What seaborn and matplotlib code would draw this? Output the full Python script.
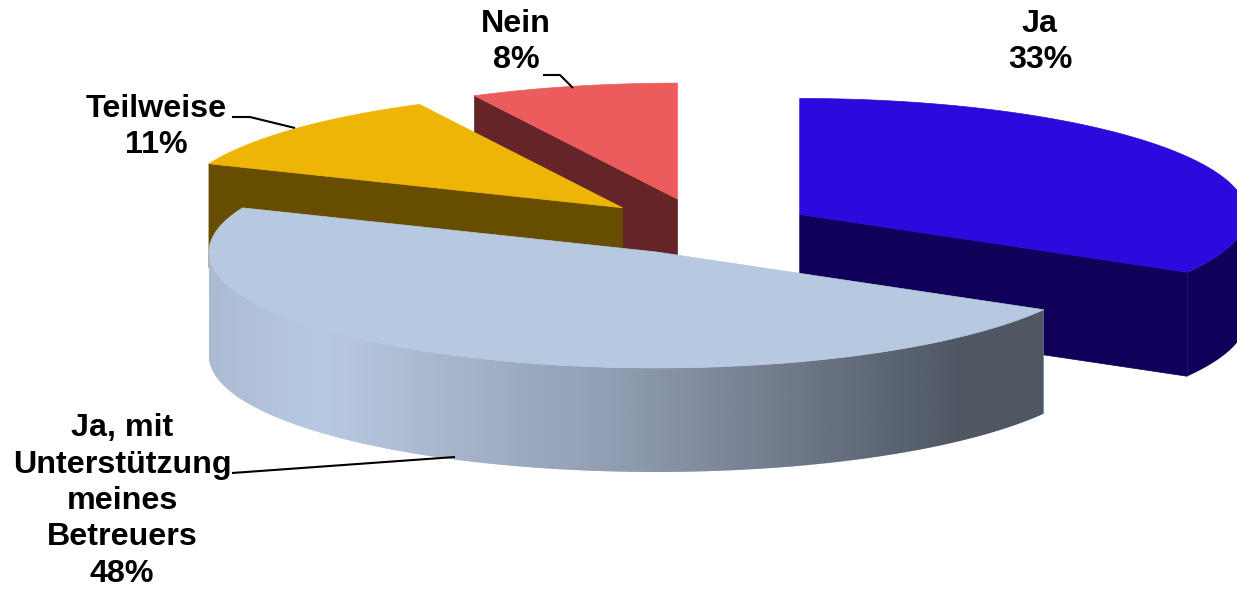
import numpy as np
import matplotlib
matplotlib.use('Agg')
import matplotlib.pyplot as plt
import seaborn as sns
from matplotlib.colors import LinearSegmentedColormap
from matplotlib.patches import Polygon

categories = ['Ja', 'Ja, mit\nUnterstützung\nmeines\nBetreuers', 'Teilweise', 'Nein']
values = [33.3, 47.9, 11.3, 7.5]
explode_x = [0.25, 0.239, 0.245, 0.245]
explode_y = [0.25, 0.22, 0.27, 0.265]
top_colors = ['#2A0ADD', '#B7C9E0', '#EEB506', '#EC5C5C']
side_colors = ['#10005A', '#B7C9E0', '#664D00', '#652428']
rim_colors = ['#AABBD2', '#B8CAE2', '#8F9BB0', '#4F5763', '#4F5763']
rim_stops = [0.0, 0.13, 0.5, 0.9, 1.0]

# pie centre, radii and height in pixels of the 1237x589 canvas
cx, cy = 703, 229
rx, ry = 447, 116
depth = 104


def point(t, ox, oy):
    return ox + rx * np.sin(t), oy - ry * np.cos(t)


def arc(t0, t1, ox, oy, drop=0):
    t = np.linspace(t0, t1, 200)
    x, y = point(t, ox, oy)
    return np.column_stack([x, y + drop])


sns.set_theme(style='white')
plt.rcParams['font.family'] = ['Liberation Sans', 'DejaVu Sans']

fig = plt.figure(figsize=(12.37, 5.89), dpi=100)
ax = fig.add_axes([0, 0, 1, 1])
ax.set_xlim(0, 1237)
ax.set_ylim(589, 0)
ax.axis('off')

edges = np.cumsum([0] + values) / sum(values) * 2 * np.pi
draw_order = [3, 2, 0, 1]

for i in draw_order:
    t0, t1 = edges[i], edges[i + 1]
    mid = (t0 + t1) / 2
    ox = cx + explode_x[i] * rx * np.sin(mid)
    oy = cy - explode_y[i] * ry * np.cos(mid)

    # cut faces, only those turned towards the viewer
    for t, visible in [(t0, np.sin(t0) < -1e-6), (t1, np.sin(t1) > 1e-6)]:
        if visible:
            ex, ey = point(t, ox, oy)
            face = [(ox, oy), (ex, ey), (ex, ey + depth), (ox, oy + depth)]
            ax.add_patch(Polygon(face, closed=True, fc=side_colors[i], ec=side_colors[i], lw=0.5))

    # outer rim, front half only
    a0, a1 = max(t0, np.pi / 2), min(t1, 3 * np.pi / 2)
    if a1 > a0:
        upper = arc(a0, a1, ox, oy)
        lower = arc(a1, a0, ox, oy, depth)
        rim = Polygon(np.vstack([upper, lower]), closed=True, fc=side_colors[i], ec='none')
        ax.add_patch(rim)
        if i == 1:
            cmap = LinearSegmentedColormap.from_list('rim', list(zip(rim_stops, rim_colors)))
            xs = np.vstack([upper, lower])[:, 0]
            img = ax.imshow(np.linspace(0, 1, 512)[None, :], cmap=cmap, aspect='auto',
                            extent=[xs.min(), xs.max(), oy + ry + depth, oy], zorder=rim.get_zorder())
            img.set_clip_path(rim)
            ax.set_xlim(0, 1237)
            ax.set_ylim(589, 0)

    top = np.vstack([[(ox, oy)], arc(t0, t1, ox, oy)])
    ax.add_patch(Polygon(top, closed=True, fc=top_colors[i], ec=top_colors[i], lw=0.5, zorder=2))

# labels with leader lines
label_pos = [(1040, 42), (122, 501), (156, 127), (516, 42)]
leaders = [None,
           [(232, 473), (455, 457)],
           [(232, 117), (250, 117), (295, 128)],
           [(543, 75), (560, 75), (573, 88)]]
for name, val, pos, lead in zip(categories, values, label_pos, leaders):
    ax.text(pos[0], pos[1], f'{name}\n{val:.0f}%', ha='center', va='center', fontsize=23.2,
            fontweight='bold', color='black', linespacing=1.28, zorder=5)
    if lead:
        ax.plot(*zip(*lead), color='black', lw=1.5, zorder=4, solid_capstyle='butt')

fig.savefig('out.png', dpi=100)
